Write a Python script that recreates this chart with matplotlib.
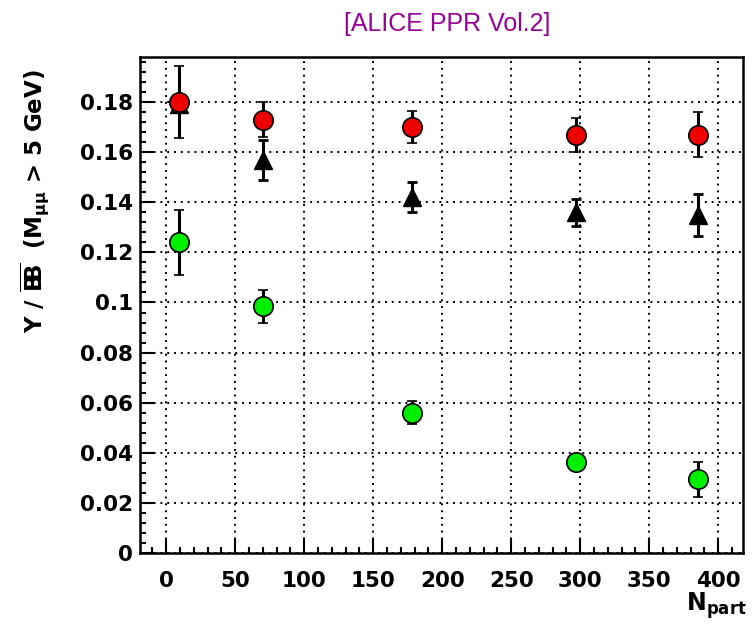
import numpy as np
import matplotlib
matplotlib.use('Agg')
import matplotlib.pyplot as plt
from matplotlib.ticker import MultipleLocator

plt.rcParams['font.family'] = ['DejaVu Sans']
plt.rcParams['mathtext.fontset'] = 'dejavusans'
plt.rcParams['mathtext.default'] = 'bf'

# N_part of the centrality bins
npart = [9, 70, 178, 297, 385]

# red circles
red_y = [0.180, 0.173, 0.170, 0.1668, 0.167]
red_err = [0.0145, 0.007, 0.0065, 0.0068, 0.009]

# black triangles
black_y = [0.1792, 0.157, 0.142, 0.136, 0.135]
black_err = [0.003, 0.008, 0.006, 0.0055, 0.0085]

# green circles
green_y = [0.124, 0.0985, 0.056, 0.0365, 0.0295]
green_err = [0.013, 0.0065, 0.0045, 0.003, 0.007]

fig = plt.figure(figsize=(7.53, 6.25), dpi=100)
ax = fig.add_axes([0.186, 0.1152, 0.8008, 0.7936])

ax.errorbar(npart, black_y, yerr=black_err, fmt='^', color='black', ms=13,
            mec='black', mfc='black', ecolor='black', elinewidth=2.2,
            capsize=3.5, capthick=2, zorder=3)
ax.errorbar(npart, red_y, yerr=red_err, fmt='o', ms=14, mfc='#ee0000',
            mec='black', mew=1.2, ecolor='black', elinewidth=2.2,
            capsize=3.5, capthick=2, zorder=4)
ax.errorbar(npart, green_y, yerr=green_err, fmt='o', ms=14, mfc='#00ee00',
            mec='black', mew=1.2, ecolor='black', elinewidth=2.2,
            capsize=3.5, capthick=2, zorder=4)

ax.set_xlim(-19, 418)
ax.set_ylim(0, 0.198)

ax.xaxis.set_major_locator(MultipleLocator(50))
ax.xaxis.set_minor_locator(MultipleLocator(10))
ax.yaxis.set_major_locator(MultipleLocator(0.02))
ax.yaxis.set_minor_locator(MultipleLocator(0.004))
ax.set_yticks(np.arange(0, 0.19, 0.02))
ax.set_yticklabels(['0', '0.02', '0.04', '0.06', '0.08', '0.1',
                    '0.12', '0.14', '0.16', '0.18'])

ax.tick_params(which='both', direction='in', width=1.5, top=False, right=False)
ax.tick_params(which='major', length=10)
ax.tick_params(which='minor', length=4.5)
ax.tick_params(axis='x', which='major', pad=13)
ax.tick_params(axis='y', which='major', pad=5)
for lab in ax.get_xticklabels() + ax.get_yticklabels():
    lab.set_fontsize(15.5)
    lab.set_fontweight('bold')

for sp in ax.spines.values():
    sp.set_linewidth(1.8)

ax.grid(True, which='major', color='black', linestyle=(0, (1, 2.5)),
        linewidth=1.4)
ax.set_axisbelow(True)

ax.set_ylabel(r'$\Upsilon$ / $\overline{\mathbf{B}}\!\!\overline{\mathbf{B}}$  (M$_{\mu\mu}$ > 5 GeV)',
              fontsize=16.5, fontweight='bold')
ax.yaxis.set_label_coords(-0.146, 0.71)

fig.text(0.992, 0.006, r'N$_{\mathbf{part}}$', ha='right', va='bottom',
         fontsize=17, fontweight='bold')

fig.text(0.594, 0.962, '[ALICE PPR Vol.2]', ha='center', va='center',
         fontsize=18, color='#990099', family='Liberation Sans')

fig.savefig('out.png', dpi=100)
